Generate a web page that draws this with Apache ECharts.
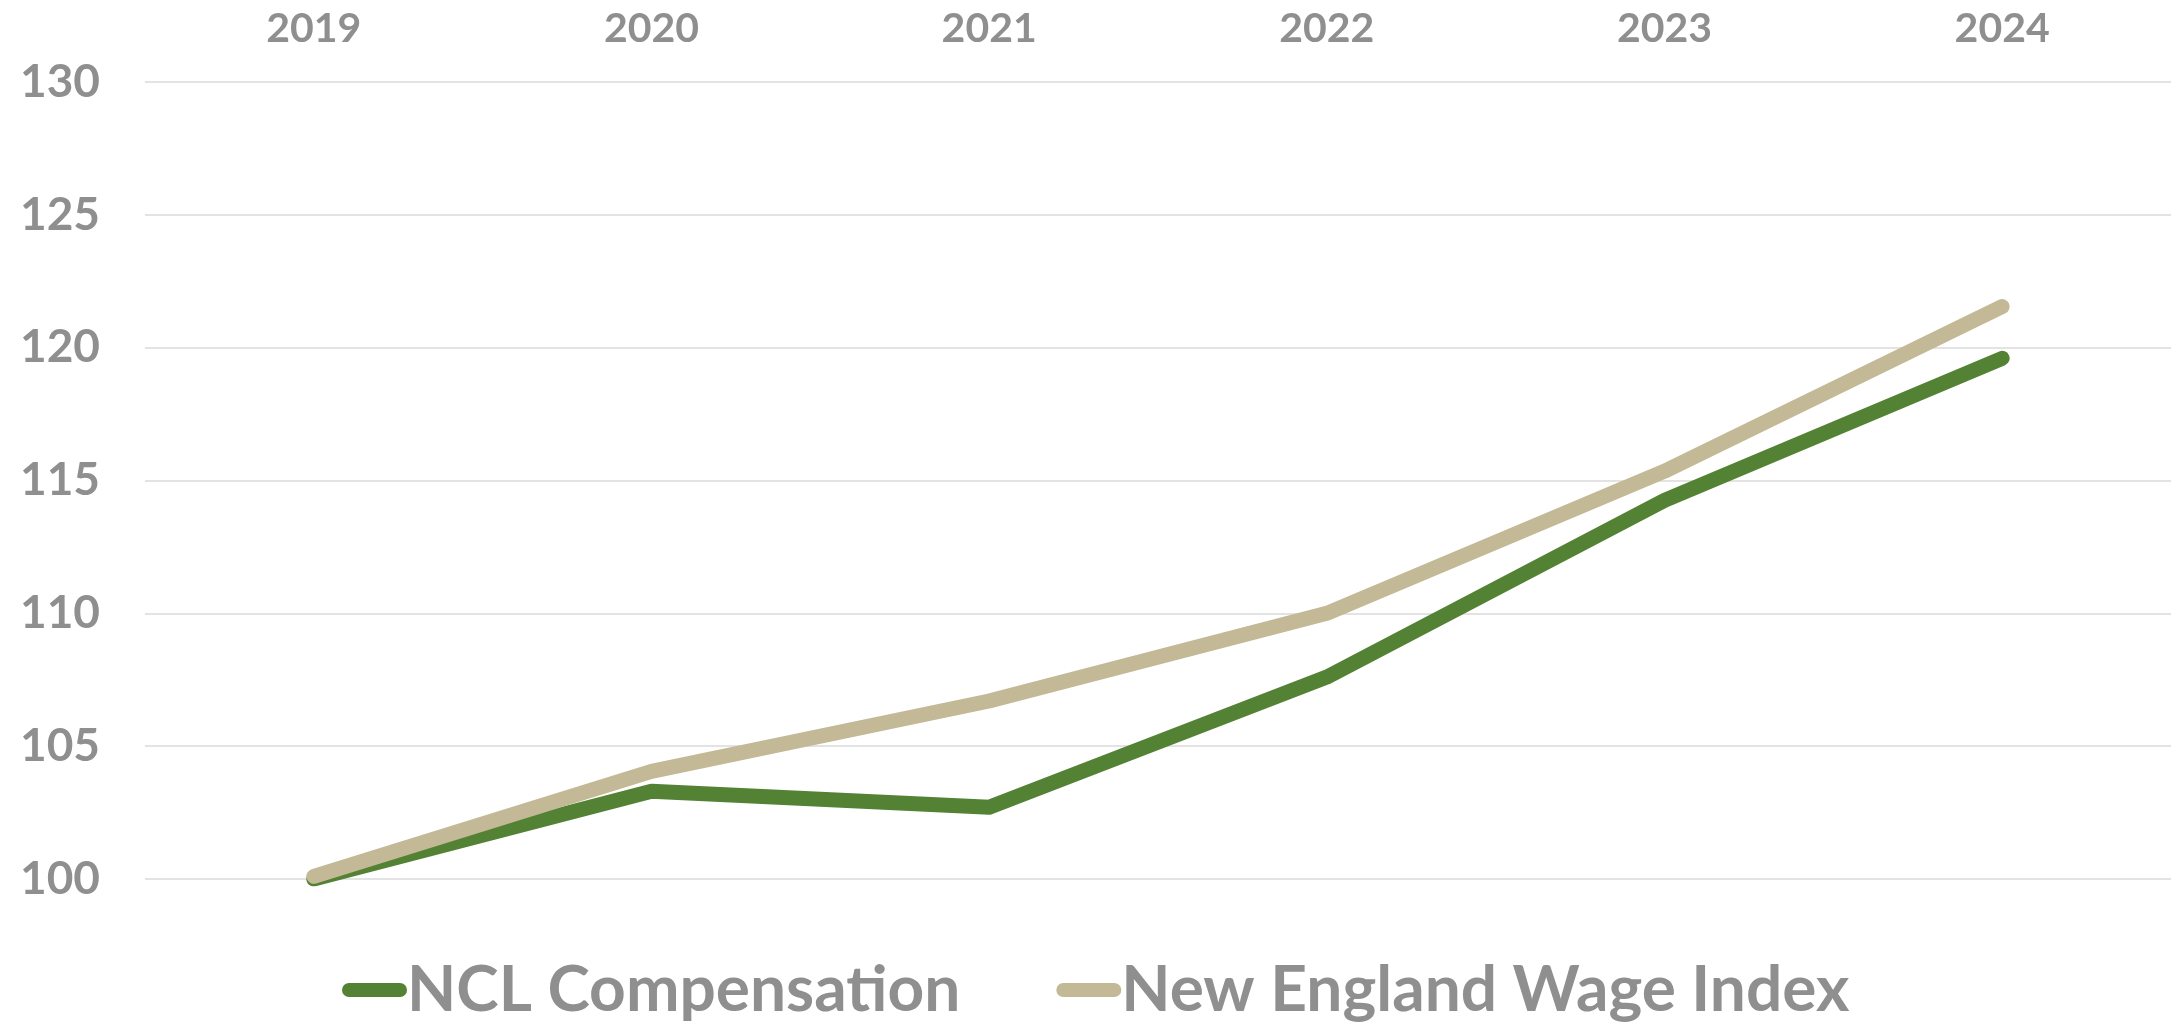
<!DOCTYPE html>
<html>
<head>
<meta charset="utf-8">
<script src="https://cdn.jsdelivr.net/npm/echarts@6/dist/echarts.min.js"></script>
<style>
html,body{margin:0;padding:0;background:#fff;}
#chart{width:2178px;height:1022px;}
</style>
</head>
<body>
<div id="chart"></div>
<script>
const categories = ['2019', '2020', '2021', '2022', '2023', '2024'];
const nclCompensation = [100.0, 103.3, 102.7, 107.6, 114.25, 119.6];
const newEnglandWageIndex = [100.1, 104.05, 106.7, 110.0, 115.35, 121.55];
const seriesNames = ['NCL Compensation', 'New England Wage Index'];
const yMin = 100, yMax = 130, yStep = 5;

const textColor = '#8f8f8f';
const green = '#548235';
const beige = '#c3b996';
const fontFam = 'Lato, "Noto Sans", sans-serif';

const chart = echarts.init(document.getElementById('chart'), null, {renderer: 'canvas'});
const pillIcon = 'path://M7,0 H58 A7,7 0 0 1 58,14 H7 A7,7 0 0 1 7,0 Z';

chart.setOption({
  animation: false,
  backgroundColor: '#ffffff',
  grid: {left: 145, right: 7, top: 82, bottom: 143},
  xAxis: {
    type: 'category', data: categories, position: 'top',
    boundaryGap: true,
    axisLine: {show: false}, axisTick: {show: false}, splitLine: {show: false},
    axisLabel: {color: textColor, fontSize: 41, fontWeight: 'bold', fontFamily: fontFam, margin: 33, lineHeight: 41}
  },
  yAxis: {
    type: 'value', min: yMin, max: yMax, interval: yStep,
    axisLine: {show: false}, axisTick: {show: false},
    splitLine: {show: true, lineStyle: {color: '#e3e3e3', width: 2}},
    axisLabel: {color: textColor, fontSize: 46, fontWeight: 'bold', fontFamily: fontFam, margin: 45}
  },
  legend: {
    data: [
      {name: seriesNames[0], icon: pillIcon},
      {name: seriesNames[1], icon: pillIcon}
    ],
    left: 337,
    top: 953,
    itemWidth: 65,
    itemHeight: 15,
    itemGap: 96,
    textStyle: {color: textColor, fontSize: 64, fontWeight: 'bold', fontFamily: fontFam, lineHeight: 64, padding: [0, 0, 0, -5]}
  },
  series: [
    {
      name: seriesNames[0], type: 'line',
      data: nclCompensation, showSymbol: false, symbol: 'none',
      color: green,
      lineStyle: {color: green, width: 15, cap: 'round', join: 'round'},
      itemStyle: {color: green}
    },
    {
      name: seriesNames[1], type: 'line',
      data: newEnglandWageIndex, showSymbol: false, symbol: 'none',
      color: beige,
      lineStyle: {color: beige, width: 15, cap: 'round', join: 'round'},
      itemStyle: {color: beige}
    }
  ]
});
</script>
</body>
</html>
